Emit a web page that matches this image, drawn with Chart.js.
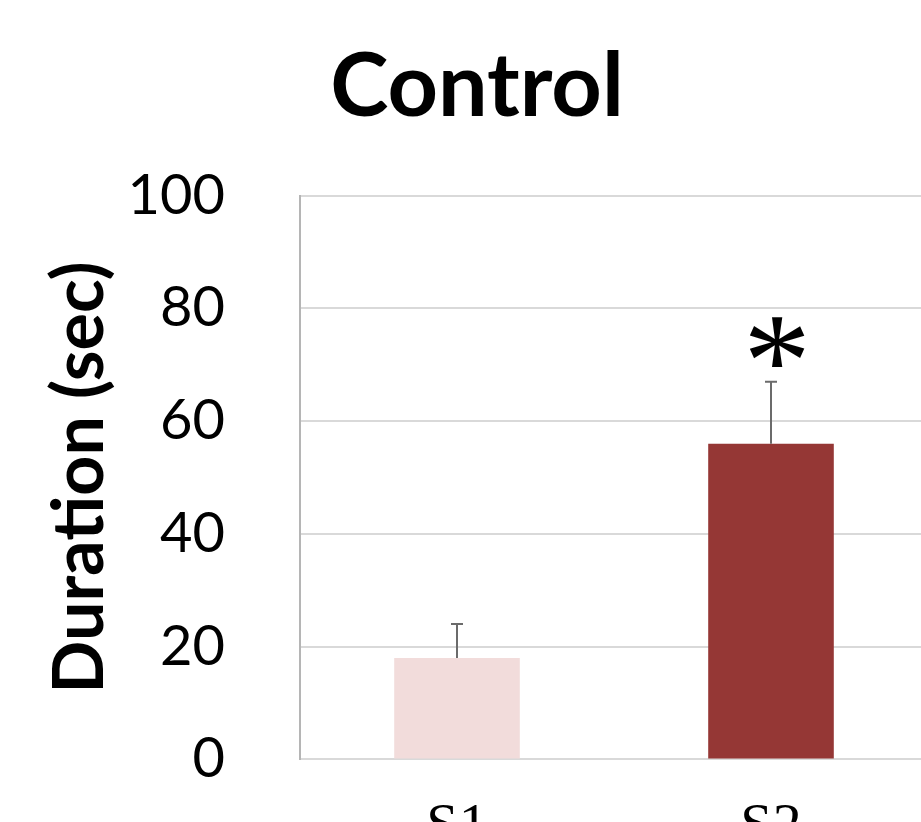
<!DOCTYPE html>
<html>
<head>
<meta charset="utf-8">
<script src="https://cdn.jsdelivr.net/npm/chart.js@4"></script>
<style>
  html, body { margin: 0; padding: 0; overflow: hidden; background: #fff; }
  #wrap { position: absolute; left: 0; top: 0; width: 955px; height: 897px; }
</style>
</head>
<body>
<div id="wrap"><canvas id="chart"></canvas></div>
<script>
// values
const categories = ['S1', 'S2'];
const durations = [18, 56];
const errors = [6, 11];
const marks = ['', '*'];
const yTicks = [0, 20, 40, 60, 80, 100];

const barColors = ['#f2dcdb', '#953735'];

// draws the upper error bars and the significance marks
const errorBarPlugin = {
    id: 'errorBars',
    afterDatasetsDraw(chart) {
        const { ctx, scales } = chart;
        const meta = chart.getDatasetMeta(0);
        ctx.save();
        meta.data.forEach((bar, i) => {
            const x = bar.x;
            const yTop = scales.y.getPixelForValue(durations[i] + errors[i]);
            const yBase = scales.y.getPixelForValue(durations[i]);
            ctx.strokeStyle = '#6b6b6b';
            ctx.lineWidth = 2;
            ctx.beginPath();
            ctx.moveTo(x, yBase);
            ctx.lineTo(x, yTop);
            ctx.moveTo(x - 6, yTop);
            ctx.lineTo(x + 6, yTop);
            ctx.stroke();
            if (marks[i]) {
                ctx.fillStyle = '#000';
                ctx.font = '135px "Liberation Serif"';
                ctx.textAlign = 'center';
                ctx.textBaseline = 'middle';
                ctx.fillText(marks[i], x + 6, yTop - 11);
            }
        });
        ctx.restore();
    }
};

new Chart(document.getElementById('chart'), {
    type: 'bar',
    data: {
        labels: categories,
        datasets: [{
            data: durations,
            backgroundColor: barColors,
            categoryPercentage: 1,
            barPercentage: 0.4
        }]
    },
    options: {
        responsive: true,
        maintainAspectRatio: false,
        animation: false,
        layout: { padding: { left: 26, right: 27, top: 35, bottom: 0 } },
        plugins: {
            legend: { display: false },
            tooltip: { enabled: false },
            title: {
                display: true,
                text: 'Control',
                color: '#000',
                font: { family: 'Lato', size: 88, weight: 'bold' },
                padding: { top: 0, bottom: 55 }
            }
        },
        scales: {
            x: {
                grid: { display: false, drawTicks: false },
                border: { color: '#d9d9d9', width: 2 },
                ticks: {
                    color: '#000',
                    padding: 34,
                    font: { family: 'Liberation Serif', size: 58 }
                }
            },
            y: {
                min: 0,
                max: 100,
                afterBuildTicks(axis) {
                    axis.ticks = yTicks.map(v => ({ value: v }));
                },
                afterFit(axis) {
                    axis.width = 274;
                },
                grid: { color: '#d9d9d9', lineWidth: 2, drawTicks: false },
                border: { color: '#b5b5b5', width: 2 },
                ticks: {
                    color: '#000',
                    padding: 75,
                    font: { family: 'Lato', size: 56 }
                },
                title: {
                    display: true,
                    text: 'Duration (sec)',
                    color: '#000',
                    font: { family: 'Lato', size: 70, weight: 'bold' },
                    padding: { top: 12, bottom: 0 }
                }
            }
        }
    },
    plugins: [errorBarPlugin]
});
</script>
</body>
</html>
